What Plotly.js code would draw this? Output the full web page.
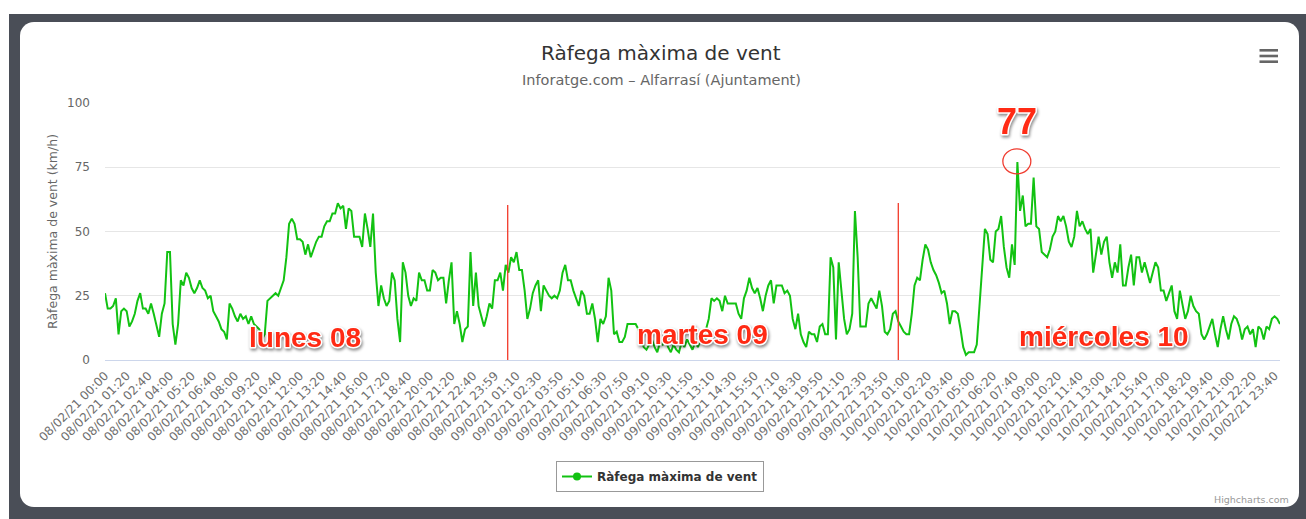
<!DOCTYPE html>
<html><head><meta charset="utf-8">
<script src="https://cdn.plot.ly/plotly-3.0.1.min.js"></script>
<style>
html,body{margin:0;padding:0;background:#fff;width:1306px;height:519px;overflow:hidden}
#frame{position:absolute;left:9px;top:14px;width:1297px;height:505px;background:#4a4e57}
#card{position:absolute;left:20px;top:22px;width:1279px;height:485px;background:#fff;border-radius:14px}
#chart{position:absolute;left:0;top:0;width:1306px;height:519px}
</style></head><body>
<div id="frame"></div><div id="card"></div><div id="chart"></div>
<script>
const chartTitle = "Ràfega màxima de vent";
const chartSubtitle = "Inforatge.com \u2013 Alfarrasí (Ajuntament)";
const yAxisTitle = "Ràfega màxima de vent (km/h)";
const seriesName = "Ràfega màxima de vent";
const yTicks = [0, 25, 50, 75, 100];

// 10-minute maximum gust (km/h), 08/02/21 00:00 -> 10/02/21 23:59
const gustKmh = [
  26,20,20,21,24,10,19,20,19,13,
  15,18,23,26,20,20,18,22,18,14,
  9,18,22,42,42,14,6,14,31,29,
  34,32,28,26,28,31,28,27,24,25,
  19,17,15,12,11,8,22,20,17,15,
  18,16,17,14,17,14,13,12,8,10,
  23,24,25,26,25,28,31,40,53,55,
  53,47,47,46,41,45,40,43,46,48,
  48,52,54,54,57,57,61,59,60,51,
  59,58,48,48,48,44,57,51,44,57,
  34,21,29,24,21,23,34,31,16,7,
  38,34,25,21,24,23,34,31,31,27,
  27,35,34,31,32,32,22,31,38,14,
  19,14,7,12,13,42,21,34,21,17,
  13,17,22,20,31,31,34,27,37,34,
  40,38,42,35,35,27,16,20,26,29,
  31,19,29,27,25,24,25,24,27,34,
  37,31,31,27,24,21,27,25,18,18,
  22,16,7,16,14,17,32,27,10,11,
  7,7,9,14,14,14,14,12,8,5,
  4,6,8,5,3,7,6,8,5,3,
  6,4,3,7,5,8,6,4,7,5,
  8,6,12,16,24,23,24,23,19,25,
  22,22,22,22,18,16,24,27,32,28,
  26,28,24,19,25,29,31,22,29,29,
  29,26,27,25,16,12,18,10,7,5,
  11,10,10,7,13,14,10,10,40,36,
  8,38,27,16,10,12,18,58,40,13,
  13,13,22,24,22,20,27,21,11,10,
  12,18,19,15,13,11,10,10,18,29,
  32,31,39,45,43,38,35,33,30,26,
  27,22,14,19,19,18,12,5,2,3,
  3,3,6,21,40,51,49,39,38,50,
  51,56,44,36,32,45,37,77,58,64,
  52,53,53,71,52,51,42,41,40,43,
  48,50,56,54,56,52,46,44,48,58,
  52,54,51,49,51,34,42,48,41,46,
  48,38,32,38,34,45,29,29,36,41,
  29,40,40,34,38,34,30,34,38,36,
  27,27,23,26,29,19,16,27,21,16,
  19,25,21,19,18,10,8,10,13,16,
  10,5,12,17,12,8,14,17,16,13,
  8,12,13,10,12,5,13,12,8,13,
  12,16,17,16,14
];

// category labels shown on the x axis (every 8th reading)
const xTickLabels = [
  "08/02/21 00:00","08/02/21 01:20","08/02/21 02:40","08/02/21 04:00","08/02/21 05:20",
  "08/02/21 06:40","08/02/21 08:00","08/02/21 09:20","08/02/21 10:40","08/02/21 12:00",
  "08/02/21 13:20","08/02/21 14:40","08/02/21 16:00","08/02/21 17:20","08/02/21 18:40",
  "08/02/21 20:00","08/02/21 21:20","08/02/21 22:40","08/02/21 23:59",
  "09/02/21 01:10","09/02/21 02:30","09/02/21 03:50","09/02/21 05:10","09/02/21 06:30",
  "09/02/21 07:50","09/02/21 09:10","09/02/21 10:30","09/02/21 11:50","09/02/21 13:10",
  "09/02/21 14:30","09/02/21 15:50","09/02/21 17:10","09/02/21 18:30","09/02/21 19:50",
  "09/02/21 21:10","09/02/21 22:30","09/02/21 23:50",
  "10/02/21 01:00","10/02/21 02:20","10/02/21 03:40","10/02/21 05:00","10/02/21 06:20",
  "10/02/21 07:40","10/02/21 09:00","10/02/21 10:20","10/02/21 11:40","10/02/21 13:00",
  "10/02/21 14:20","10/02/21 15:40","10/02/21 17:00","10/02/21 18:20","10/02/21 19:40",
  "10/02/21 21:00","10/02/21 22:20","10/02/21 23:40"
];
const xTickStep = 8;
const dayLabels = ["lunes 08", "martes 09", "miércoles 10"];

// ---- layout helpers (pixel -> paper) ----
const W = 1306, H = 519;
const M = {l: 105, r: 26, t: 103, b: 159};
const PW = W - M.l - M.r, PH = H - M.t - M.b;
const px2x = p => (p - M.l) / PW;
const py2y = p => (H - M.b - p) / PH;

const n = gustKmh.length;
const xs = gustKmh.map((_, i) => i);
const tickVals = xTickLabels.map((_, k) => k * xTickStep);
const peak = Math.max(...gustKmh);
const peakIdx = gustKmh.indexOf(peak);
const xPerPx = (n - 1) / PW, yPerPx = 100 / PH;

const green = '#12c212';
const red = '#ff2a14';
const baseFont = 'DejaVu Sans, Verdana, sans-serif';
const boldFont = 'Liberation Sans, Arial, Helvetica, sans-serif';

const traces = [
  {x: xs, y: gustKmh, type: 'scatter', mode: 'lines', name: seriesName,
   line: {color: green, width: 2}, showlegend: false, hoverinfo: 'x+y'},
  {x: [null], y: [null], type: 'scatter', mode: 'lines+markers', name: seriesName,
   line: {color: green, width: 2}, marker: {color: green, size: 8}, showlegend: true}
];

const ann = [];
ann.push({xref: 'paper', yref: 'paper', x: px2x(661), y: py2y(53), text: chartTitle,
  showarrow: false, xanchor: 'center', yanchor: 'middle',
  font: {family: baseFont, size: 20, color: '#333333'}});
ann.push({xref: 'paper', yref: 'paper', x: px2x(661), y: py2y(80), text: chartSubtitle,
  showarrow: false, xanchor: 'center', yanchor: 'middle',
  font: {family: baseFont, size: 14.5, color: '#666666'}});
ann.push({xref: 'paper', yref: 'paper', x: px2x(52), y: py2y(232), text: yAxisTitle,
  showarrow: false, xanchor: 'center', yanchor: 'middle', textangle: -90,
  font: {family: baseFont, size: 12.5, color: '#666666'}});
ann.push({xref: 'paper', yref: 'paper', x: px2x(1291), y: py2y(500), text: 'Highcharts.com',
  showarrow: false, xanchor: 'right', yanchor: 'middle',
  font: {family: baseFont, size: 9.5, color: '#999999'}});
const dayPos = [[305, 337], [702, 334], [1104, 336]];
dayLabels.forEach((t, k) => ann.push({xref: 'paper', yref: 'paper',
  x: px2x(dayPos[k][0]), y: py2y(dayPos[k][1]), text: t, showarrow: false,
  xanchor: 'center', yanchor: 'middle',
  font: {family: boldFont, size: 28, color: red, weight: 'bold'}}));
ann.push({xref: 'x', yref: 'paper', x: peakIdx, y: py2y(122), text: String(peak),
  showarrow: false, xanchor: 'center', yanchor: 'middle',
  font: {family: boldFont, size: 36, color: red, weight: 'bold'}});

const shapes = [];
// hand-drawn style day separators
[[507.7, 205], [898.3, 203]].forEach(([px, top]) => shapes.push({
  type: 'line', xref: 'x', yref: 'y',
  x0: (px - M.l) * xPerPx, x1: (px - M.l) * xPerPx,
  y0: 0, y1: (H - M.b - top) * yPerPx,
  line: {color: '#f23a2a', width: 1.3}}));
// circle around the peak
shapes.push({type: 'circle', xref: 'x', yref: 'y',
  x0: peakIdx - 14 * xPerPx - 0.2, x1: peakIdx + 14 * xPerPx - 0.2,
  y0: peak - 12.5 * yPerPx + 0.3, y1: peak + 12.5 * yPerPx + 0.3,
  line: {color: '#f03c30', width: 1.3}});
// context menu icon
[50.3, 56, 61.7].forEach(py => shapes.push({type: 'line', xref: 'paper', yref: 'paper',
  x0: px2x(1259.5), x1: px2x(1278), y0: py2y(py), y1: py2y(py),
  line: {color: '#666666', width: 2.6}}));

const layout = {
  width: W, height: H, margin: M,
  paper_bgcolor: 'rgba(0,0,0,0)', plot_bgcolor: 'rgba(0,0,0,0)',
  font: {family: baseFont, color: '#666666'},
  xaxis: {range: [0, n - 1], tickmode: 'array', tickvals: tickVals, ticktext: xTickLabels,
    tickangle: -45, tickfont: {family: baseFont, size: 12, color: '#6f6f6f'},
    showgrid: false, zeroline: false, showline: true, linecolor: '#ccd6eb', linewidth: 1,
    ticks: '', ticklabelstandoff: 3, automargin: false, fixedrange: true},
  yaxis: {range: [0, 100], tickmode: 'array', tickvals: yTicks,
    tickfont: {family: baseFont, size: 12, color: '#666666'},
    showgrid: true, gridcolor: '#e6e6e6', gridwidth: 1, zeroline: false, showline: false,
    ticks: '', ticklabelstandoff: 14, automargin: false, fixedrange: true},
  showlegend: true,
  legend: {orientation: 'h', x: px2x(660), xanchor: 'center', y: py2y(461), yanchor: 'top',
    bgcolor: '#ffffff', bordercolor: '#999999', borderwidth: 1, itemwidth: 30,
    font: {family: baseFont, size: 12, color: '#333333', weight: 'bold'}},
  annotations: ann, shapes: shapes
};

Plotly.newPlot('chart', traces, layout, {displayModeBar: false, staticPlot: true}).then(() => {
  const special = new Set([...dayLabels, String(peak)]);
  document.querySelectorAll('.annotation-text').forEach(el => {
    if (special.has(el.textContent)) {
      el.style.paintOrder = 'stroke';
      el.style.stroke = '#ffffff';
      el.style.strokeWidth = '3px';
      el.style.strokeLinejoin = 'round';
      el.style.filter = 'drop-shadow(1px 2px 1.5px rgba(0,0,0,0.45))';
    }
  });
});
</script>
</body></html>
